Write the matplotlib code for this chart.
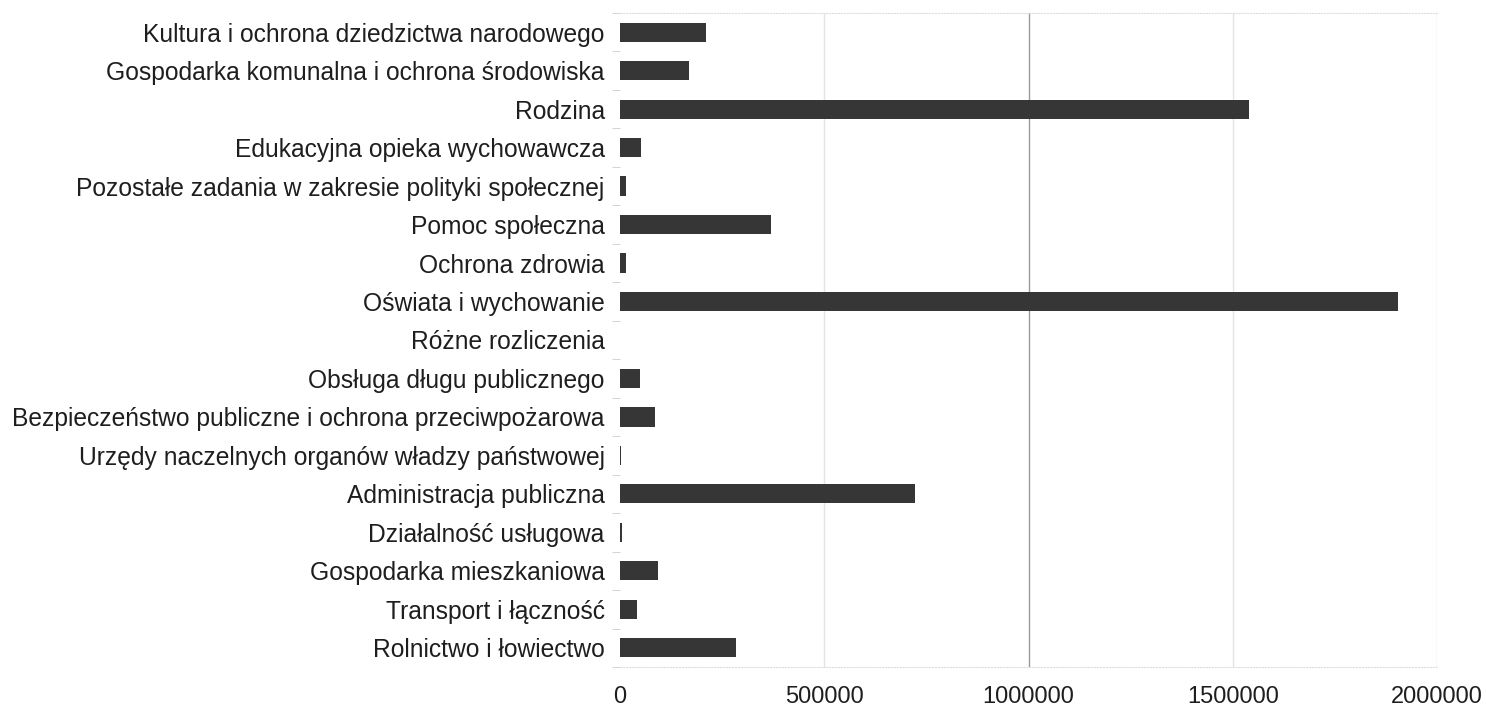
import matplotlib.pyplot as plt
import numpy as np

plt.rcParams['font.family'] = ['Liberation Sans', 'DejaVu Sans']

# categories from top to bottom
categories = [
    "Kultura i ochrona dziedzictwa narodowego",
    "Gospodarka komunalna i ochrona środowiska",
    "Rodzina",
    "Edukacyjna opieka wychowawcza",
    "Pozostałe zadania w zakresie polityki społecznej",
    "Pomoc społeczna",
    "Ochrona zdrowia",
    "Oświata i wychowanie",
    "Różne rozliczenia",
    "Obsługa długu publicznego",
    "Bezpieczeństwo publiczne i ochrona przeciwpożarowa",
    "Urzędy naczelnych organów władzy państwowej",
    "Administracja publiczna",
    "Działalność usługowa",
    "Gospodarka mieszkaniowa",
    "Transport i łączność",
    "Rolnictwo i łowiectwo",
]
values = [211000, 170000, 1540000, 51000, 15000, 370000, 15000, 1905000, 0,
          48000, 86000, 3000, 721000, 4000, 94000, 41000, 284000]
xticks = [0, 500000, 1000000, 1500000, 2000000]

fig = plt.figure(figsize=(14.86, 7.1), dpi=100)
ax = fig.add_axes([0.4172, 0.0606, 0.5500, 0.9211])

y = np.arange(len(categories))
ax.barh(y, values, height=0.5, color='#363636', zorder=3)

ax.set_ylim(len(categories) - 0.5, -0.5)
ax.set_xlim(0, 2000000)
ax.set_yticks(y)
ax.set_yticklabels(categories, fontsize=17.7, color='#1e1e1e')
ax.set_yticks(np.arange(len(categories) + 1) - 0.5, minor=True)
ax.tick_params(axis='y', which='major', length=0, pad=11)
ax.tick_params(axis='y', which='minor', length=6, color='#cccccc')

ax.set_xticks(xticks)
ax.set_xticklabels([str(v) for v in xticks], fontsize=17, color='#1e1e1e')
ax.tick_params(axis='x', length=0, pad=14)

for v in xticks[1:]:
    ax.axvline(v, color='#999999' if v == 1000000 else '#e4e4e4', lw=1, zorder=1)

for s in ['left', 'right']:
    ax.spines[s].set_visible(False)
for s in ['top', 'bottom']:
    ax.spines[s].set_color('#dddddd')
    ax.spines[s].set_linestyle(':')

fig.savefig('out.png', dpi=100)
